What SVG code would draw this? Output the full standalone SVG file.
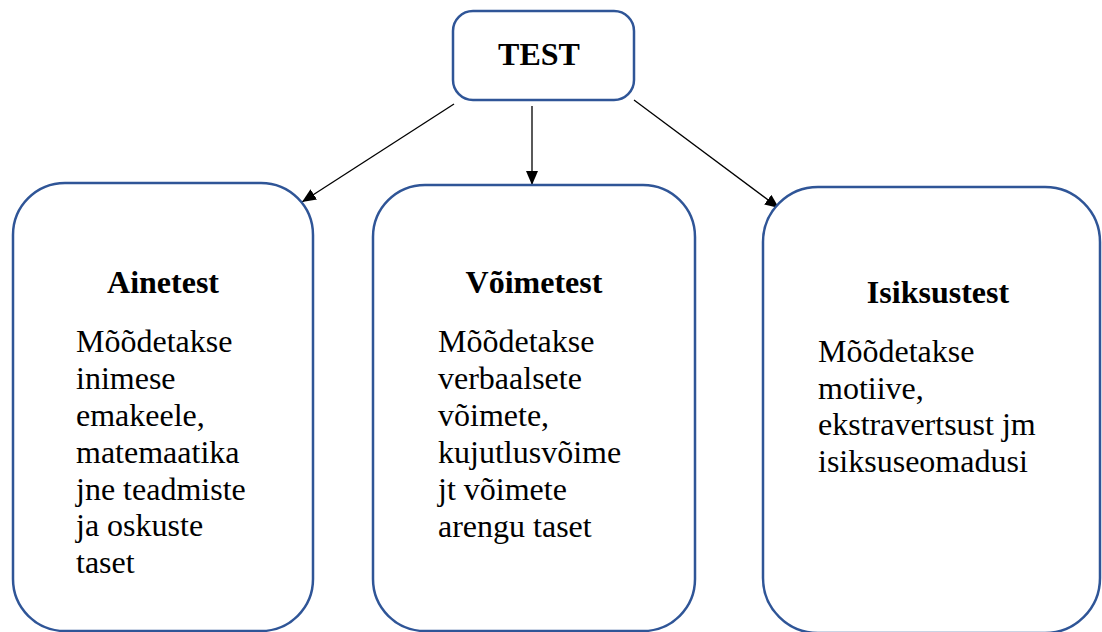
<svg xmlns="http://www.w3.org/2000/svg" width="1102" height="632" viewBox="0 0 1102 632">
<style>
.box{fill:#fff;stroke:#2F5597;stroke-width:2.5}
.t{font-family:"Liberation Serif",Tinos,"Times New Roman","Nimbus Roman","Noto Serif","DejaVu Serif",serif;font-size:32px;fill:#000}
.b{font-weight:bold;text-anchor:middle}
.c{stroke:#000;stroke-width:1.3;fill:none}
</style>
<defs>
<marker id="ah" viewBox="0 0 14 12" refX="14" refY="6" markerWidth="14" markerHeight="12" markerUnits="userSpaceOnUse" orient="auto">
<path d="M0,0 L14,6 L0,12 z" fill="#000"/>
</marker>
</defs>
<rect width="1102" height="632" fill="#fff"/>
<g id="connectors">
<line class="c" x1="454" y1="104" x2="302" y2="202" marker-end="url(#ah)"/>
<line class="c" x1="532" y1="106" x2="532" y2="185" marker-end="url(#ah)"/>
<line class="c" x1="634" y1="100" x2="779" y2="208" marker-end="url(#ah)"/>
</g>
<g id="test">
<rect class="box" x="453" y="11" width="181" height="89" rx="20"/>
<text class="t b" x="539" y="65">TEST</text>
</g>
<g id="ainetest">
<rect class="box" x="13" y="183" width="300" height="448" rx="52"/>
<text class="t b" x="163" y="293">Ainetest</text>
<text class="t" x="76" y="352">Mõõdetakse</text>
<text class="t" x="76" y="389">inimese</text>
<text class="t" x="76" y="426">emakeele,</text>
<text class="t" x="76" y="463">matemaatika</text>
<text class="t" x="76" y="500">jne teadmiste</text>
<text class="t" x="76" y="536">ja oskuste</text>
<text class="t" x="76" y="573">taset</text>
</g>
<g id="voimetest">
<rect class="box" x="373" y="185" width="322" height="446" rx="52"/>
<text class="t b" x="534" y="293">Võimetest</text>
<text class="t" x="438" y="352">Mõõdetakse</text>
<text class="t" x="438" y="389">verbaalsete</text>
<text class="t" x="438" y="426">võimete,</text>
<text class="t" x="438" y="463">kujutlusvõime</text>
<text class="t" x="438" y="500">jt võimete</text>
<text class="t" x="438" y="537">arengu taset</text>
</g>
<g id="isiksustest">
<rect class="box" x="763" y="187" width="337" height="446" rx="55"/>
<text class="t b" x="938" y="303">Isiksustest</text>
<text class="t" x="818" y="362">Mõõdetakse</text>
<text class="t" x="818" y="399">motiive,</text>
<text class="t" x="818" y="435">ekstravertsust jm</text>
<text class="t" x="818" y="472">isiksuseomadusi</text>
</g>
</svg>
